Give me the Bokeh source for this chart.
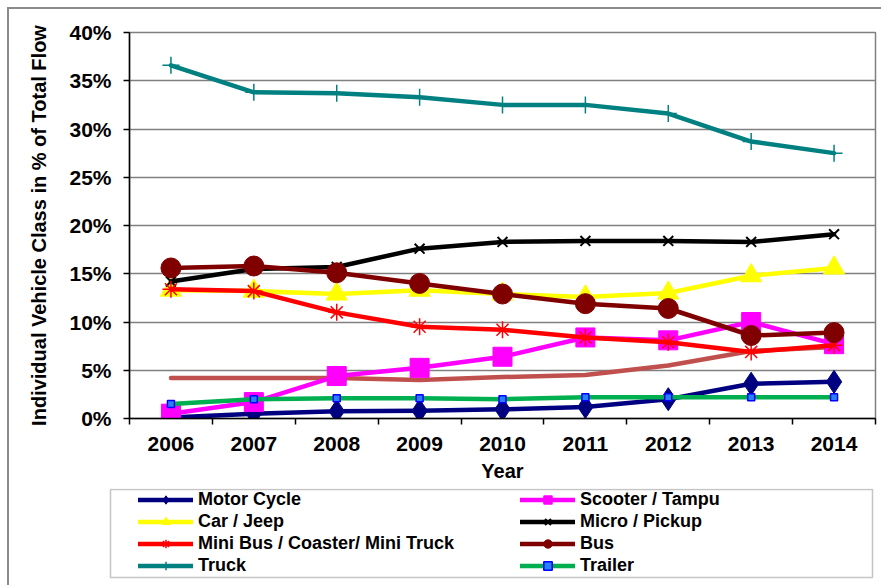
from bokeh.plotting import figure
from bokeh.layouts import column
from bokeh.models import (FixedTicker, Legend, LegendItem, BoxAnnotation,
                          CustomJSTickFormatter, PrintfTickFormatter, Range1d)
from bokeh.embed import file_html
from bokeh.resources import INLINE

years = ["2006", "2007", "2008", "2009", "2010", "2011", "2012", "2013", "2014"]
motor_cycle = [0.1, 0.5, 0.75, 0.8, 0.95, 1.2, 2.0, 3.6, 3.8]
scooter = [0.5, 1.7, 4.4, 5.25, 6.4, 8.4, 8.1, 10.0, 7.7]
car_jeep = [13.3, 13.2, 12.9, 13.3, 12.9, 12.6, 13.0, 14.8, 15.6]
micro_pickup = [14.2, 15.5, 15.7, 17.6, 18.3, 18.4, 18.4, 18.3, 19.1]
mini_bus = [13.4, 13.2, 11.0, 9.5, 9.2, 8.4, 7.9, 6.9, 7.6]
bus = [15.6, 15.8, 15.1, 14.0, 12.9, 11.9, 11.4, 8.6, 8.9]
truck = [36.6, 33.8, 33.7, 33.3, 32.5, 32.5, 31.6, 28.7, 27.5]
trailer = [1.5, 2.0, 2.1, 2.1, 2.0, 2.2, 2.2, 2.2, 2.2]
unnamed = [4.2, 4.2, 4.2, 4.0, 4.3, 4.5, 5.5, 7.0, 7.4]
y_ticks = [0, 5, 10, 15, 20, 25, 30, 35, 40]

FONT = "Liberation Sans"
LW = 4.5
xs = [i + 0.5 for i in range(len(years))]

# ---------------- main chart ----------------
p = figure(width=872, height=479, output_backend="svg", toolbar_location=None,
           x_range=Range1d(0, len(years)), y_range=Range1d(0, 40),
           min_border_left=120, min_border_right=6, min_border_top=23, min_border_bottom=70)
p.frame_align = False
p.background_fill_color = "white"
p.border_fill_color = "white"
p.outline_line_color = "#808080"
p.outline_line_width = 1.5

p.yaxis.ticker = FixedTicker(ticks=y_ticks)
p.yaxis.formatter = PrintfTickFormatter(format="%d%%")
p.yaxis.minor_tick_line_color = None
p.yaxis.major_tick_out = 6
p.yaxis.major_tick_in = 0
p.yaxis.major_tick_line_width = 1.5
p.yaxis.major_label_standoff = 12
p.yaxis.axis_line_color = "black"
p.yaxis.axis_line_width = 1.5
p.yaxis.major_label_text_font = FONT
p.yaxis.major_label_text_font_style = "bold"
p.yaxis.major_label_text_font_size = "21px"
p.yaxis.major_label_text_color = "black"
p.yaxis.axis_label = "Individual Vehicle Class in % of Total Flow"
p.yaxis.axis_label_text_font = FONT
p.yaxis.axis_label_text_font_style = "bold"
p.yaxis.axis_label_text_font_size = "20px"
p.yaxis.axis_label_text_color = "black"
p.yaxis.axis_label_standoff = 16

p.xaxis.ticker = FixedTicker(ticks=xs, minor_ticks=list(range(len(years) + 1)))
p.xaxis.formatter = CustomJSTickFormatter(args=dict(years=years),
                                          code="return years[Math.floor(tick)];")
p.xaxis.major_tick_line_color = None
p.xaxis.major_tick_out = 0
p.xaxis.major_tick_in = 0
p.xaxis.minor_tick_line_color = "black"
p.xaxis.minor_tick_line_width = 1.5
p.xaxis.minor_tick_out = 6
p.xaxis.minor_tick_in = 0
p.xaxis.major_label_standoff = 12
p.xaxis.axis_line_color = "black"
p.xaxis.axis_line_width = 1.5
p.xaxis.major_label_text_font = FONT
p.xaxis.major_label_text_font_style = "bold"
p.xaxis.major_label_text_font_size = "21px"
p.xaxis.major_label_text_color = "black"
p.xaxis.axis_label = "Year"
p.xaxis.axis_label_text_font = FONT
p.xaxis.axis_label_text_font_style = "bold"
p.xaxis.axis_label_text_font_size = "20px"
p.xaxis.axis_label_text_color = "black"
p.xaxis.axis_label_standoff = 6

p.xgrid.grid_line_color = None
p.ygrid.ticker = FixedTicker(ticks=y_ticks)
p.ygrid.grid_line_color = "#808080"
p.ygrid.grid_line_width = 1.5


def draw_series(fig, yname="default", k=1.0):
    kw = dict(y_range_name=yname)
    lk = dict(line_width=LW, line_join="round", line_cap="round", **kw)
    out = {}
    fig.line(xs, unnamed, line_color="#C0504D", **lk)

    out["Motor Cycle"] = [
        fig.line(xs, motor_cycle, line_color="#000080", **lk),
        fig.scatter(xs, motor_cycle, marker="diamond", size=23 * k, fill_color="#000080",
                    line_color="#000080", **kw)]
    out["Scooter / Tampu"] = [
        fig.line(xs, scooter, line_color="#FF00FF", **lk),
        fig.scatter(xs, scooter, marker="square", size=19 * k, fill_color="#FF00FF",
                    line_color="#FF00FF", **kw)]
    out["Car / Jeep"] = [
        fig.line(xs, car_jeep, line_color="#FFFF00", **lk),
        fig.scatter(xs, car_jeep, marker="triangle", size=21 * k, fill_color="#FFFF00",
                    line_color="#FFFF00", **kw)]
    out["Micro / Pickup"] = [
        fig.line(xs, micro_pickup, line_color="black", **lk),
        fig.scatter(xs, micro_pickup, marker="x", size=14 * k, line_color="black",
                    line_width=2, **kw)]
    out["Mini Bus / Coaster/ Mini Truck"] = [
        fig.line(xs, mini_bus, line_color="#FF0000", **lk),
        fig.scatter(xs, mini_bus, marker="asterisk", size=17 * k, line_color="#FF0000",
                    line_width=1.5, **kw)]
    out["Bus"] = [
        fig.line(xs, bus, line_color="#800000", **lk),
        fig.scatter(xs, bus, marker="circle", size=20 * k, fill_color="#800000",
                    line_color="#800000", **kw)]
    out["Truck"] = [
        fig.line(xs, truck, line_color="#008080", **lk),
        fig.scatter(xs, truck, marker="cross", size=17 * k, line_color="#008080",
                    line_width=1.5, **kw)]
    out["Trailer"] = [
        fig.line(xs, trailer, line_color="#00B050", **lk),
        fig.scatter(xs, trailer, marker="square", size=max(6, 7 * k), fill_color="#2a7fff",
                    line_color="#0000FF", line_width=1.5, **kw)]
    return out


draw_series(p)

# ---------------- legend strip ----------------
lf = figure(width=872, height=97, output_backend="svg", toolbar_location=None,
            x_range=Range1d(9, 881), y_range=Range1d(585, 488),
            x_axis_location=None, y_axis_location=None,
            min_border_left=0, min_border_right=0, min_border_top=0, min_border_bottom=0)
lf.frame_align = False
lf.outline_line_color = None
lf.xgrid.grid_line_color = None
lf.ygrid.grid_line_color = None
lf.background_fill_color = "white"
lf.border_fill_color = "white"
lf.extra_y_ranges = {"off": Range1d(-200, -100)}
proxies = draw_series(lf, "off", k=0.55)


def make_legend(names, loc):
    return Legend(items=[LegendItem(label=n, renderers=proxies[n]) for n in names],
                  location=loc, orientation="vertical",
                  glyph_width=55, glyph_height=21, label_height=21, label_width=300, spacing=1,
                  padding=0, margin=0, border_line_color=None, background_fill_alpha=0,
                  label_standoff=5, label_text_font=FONT, label_text_font_style="bold",
                  label_text_font_size="18px", label_text_color="black")


lf.add_layout(make_legend(["Motor Cycle", "Car / Jeep", "Mini Bus / Coaster/ Mini Truck", "Truck"], (129, 9)))
lf.add_layout(make_legend(["Scooter / Tampu", "Micro / Pickup", "Bus", "Trailer"], (511, 9)))
lf.add_layout(BoxAnnotation(left=110, right=872, top=489, bottom=577,
                            fill_alpha=0, line_color="#404040", line_width=1.5))

layout = column(p, lf, spacing=0, margin=(7, 0, 0, 7),
                styles={"border-left": "2px solid #8a8a8a", "border-top": "2px solid #8a8a8a"})

open("out.html", "w").write(file_html(layout, INLINE))
